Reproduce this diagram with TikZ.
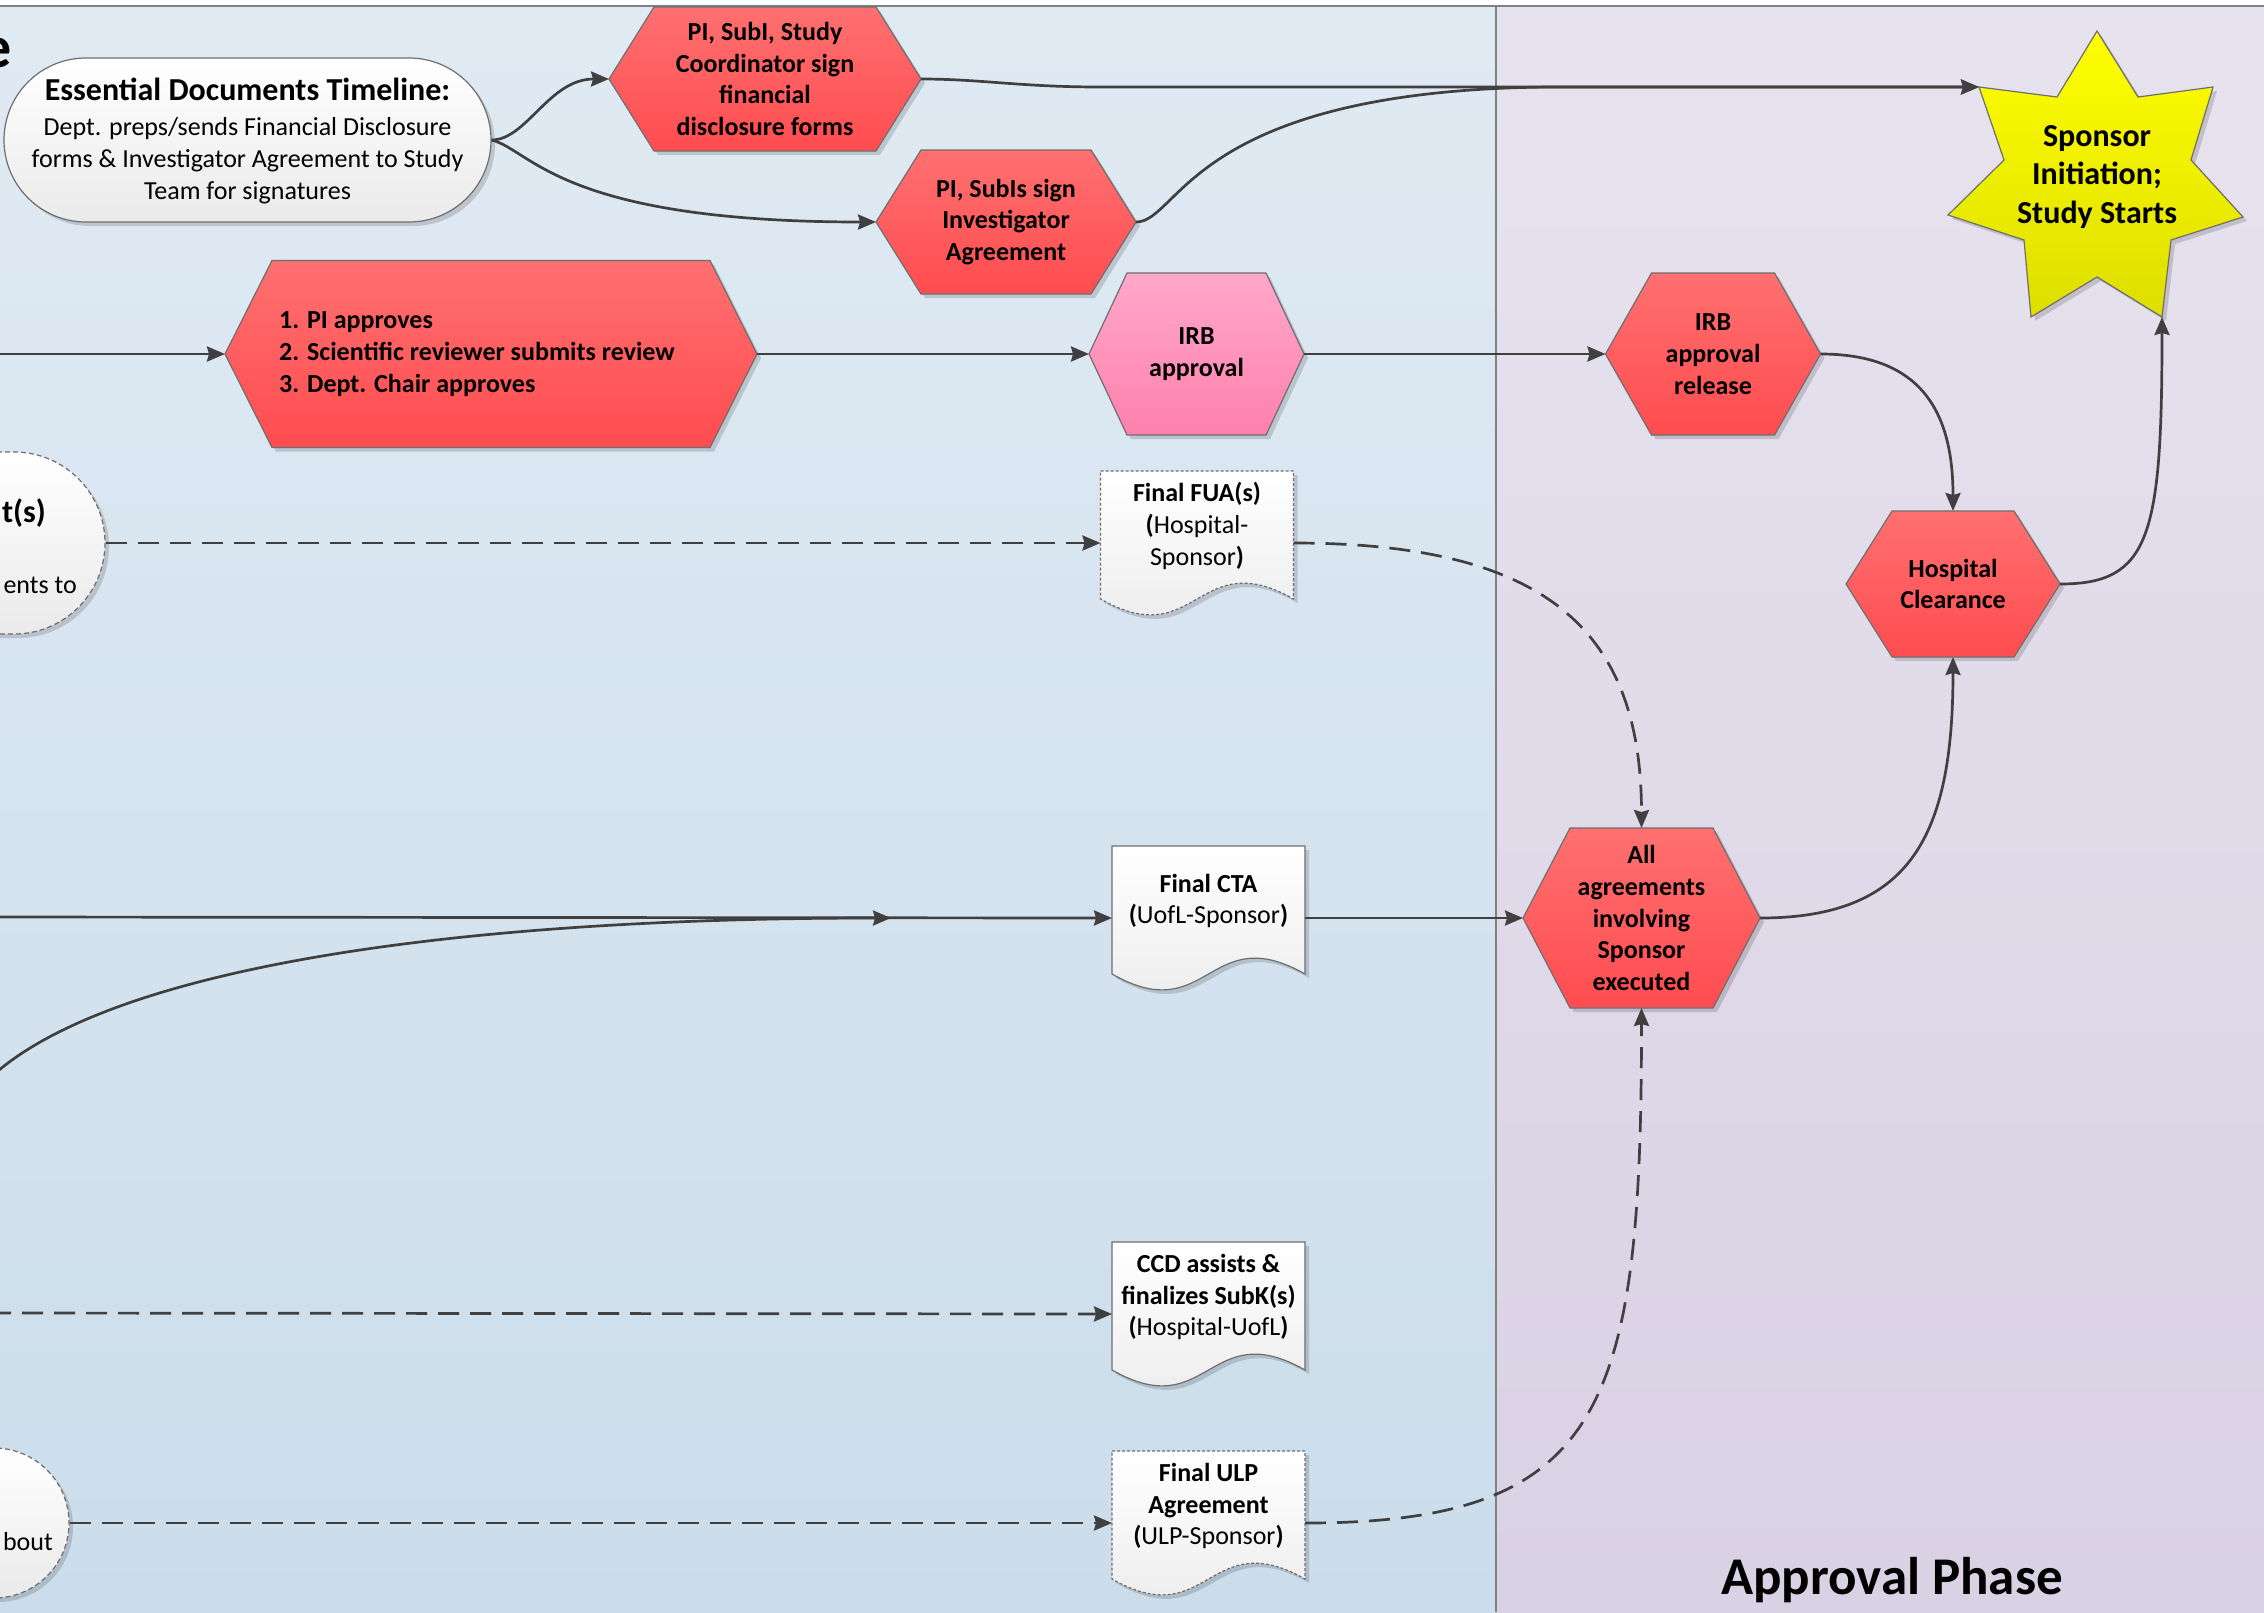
\documentclass[tikz,border=0pt]{standalone}
\usepackage{fontspec}
\setmainfont{Carlito}
\usetikzlibrary{arrows.meta,shapes.misc,shadows,calc}

\definecolor{bgLtop}{RGB}{224,234,243}
\definecolor{bgLbot}{RGB}{203,221,235}
\definecolor{bgRtop}{RGB}{231,227,238}
\definecolor{bgRbot}{RGB}{217,209,228}
\definecolor{redtop}{RGB}{255,112,112}
\definecolor{redbot}{RGB}{255,76,80}
\definecolor{pinktop}{RGB}{255,168,202}
\definecolor{pinkbot}{RGB}{255,128,172}
\definecolor{yeltop}{RGB}{255,255,0}
\definecolor{yelbot}{RGB}{222,222,0}
\definecolor{wtop}{RGB}{255,255,255}
\definecolor{wbot}{RGB}{234,234,234}
\definecolor{edge}{RGB}{110,110,110}
\definecolor{conn}{RGB}{64,64,64}
\definecolor{divline}{RGB}{128,128,128}

\tikzset{
  shapeshadow/.style={drop shadow={shadow xshift=4pt, shadow yshift=-4pt, opacity=0.15, fill=black}},
  redhex/.style={draw=edge, line width=1.2pt, top color=redtop, bottom color=redbot, shapeshadow},
  pinkhex/.style={draw=edge, line width=1.2pt, top color=pinktop, bottom color=pinkbot, shapeshadow},
  yelstar/.style={draw=edge, line width=1.2pt, top color=yeltop, bottom color=yelbot, shapeshadow},
  docfill/.style={draw=edge, line width=1.2pt, top color=wtop, bottom color=wbot, shapeshadow},
  docdash/.style={docfill, dash pattern=on 3pt off 2pt},
  stadium/.style={rounded rectangle, draw=edge, line width=1.2pt, top color=wtop, bottom color=wbot, shapeshadow, inner sep=0pt},
  leftstad/.style={stadium, dash pattern=on 5pt off 3pt},
  anchorbox/.style={rectangle, inner sep=0pt, outer sep=0pt, draw=none, fill=none},
  txt/.style={font=\fontsize{26}{31.7}\selectfont, align=center, inner sep=0pt, text=black},
  btxt/.style={txt, font=\fontsize{26}{31.7}\selectfont\bfseries},
  conline/.style={draw=conn, line width=2.7pt, -{Stealth[length=18pt,width=15pt,inset=2pt]}},
  condash/.style={conline, dash pattern=on 21pt off 11pt}
}

\newcommand{\hexshape}[9]{%
  \path[#7] ({#2-#4/2},{#3}) -- ({#2-#4/2+#6},{#3-#5/2}) -- ({#2+#4/2-#6},{#3-#5/2}) -- ({#2+#4/2},{#3}) -- ({#2+#4/2-#6},{#3+#5/2}) -- ({#2-#4/2+#6},{#3+#5/2}) -- cycle;
  \node[anchorbox, minimum width=#4pt, minimum height=#5pt] (#1) at (#2,#3) {};
  \node[btxt, #9] (#1t) at (#1) {#8};
}

\newcommand{\docshape}[5]{%
  \path[#4] ({#2-96.5},{#3-72}) -- ({#2+96.5},{#3-72}) -- ({#2+96.5},{#3+56}) .. controls ({#2},{#3+1}) and ({#2},{#3+111}) .. ({#2-96.5},{#3+56}) -- cycle;
  \node[anchorbox, minimum width=193pt, minimum height=144pt] (#1) at (#2,#3) {};
  \node[txt] (#1t) at (#2,{#3-17}) {#5};
}

\begin{document}
\begin{tikzpicture}[x=1pt, y=-1pt]
\useasboundingbox (0,0) rectangle (2264,1612);
\clip (0,0) rectangle (2264,1612);
\fill[white] (0,0) rectangle (2264,1612);
\shade[top color=bgLtop, bottom color=bgLbot] (0,6) rectangle (1496,1612);
\shade[top color=bgRtop, bottom color=bgRbot] (1496,6) rectangle (2264,1612);
\draw[divline, line width=1.5pt] (0,6) -- (2264,6);
\draw[divline, line width=1.5pt] (1496,6) -- (1496,1612);

% phase titles
\node[anchor=base east, inner sep=0pt, font=\fontsize{60}{70}\selectfont\bfseries] (ttl) at (12,67) {e};
\node[anchor=base, inner sep=0pt, font=\fontsize{53}{60}\selectfont\bfseries] (phase) at (1892,1594) {Approval Phase};

% left partial shapes
\node[leftstad, minimum width=600pt, minimum height=182pt] (lst) at (-195,543) {};
\node[anchor=east, inner sep=0pt, font=\fontsize{32}{36}\selectfont\bfseries] (ts) at (46,513) {t(s)};
\node[txt, anchor=east] (ento) at (77,585) {ents to};
\node[leftstad, minimum width=400pt, minimum height=150pt] (lcirc) at (-131,1523) {};
\node[txt, anchor=east] (bout) at (53,1542) {bout};

% essential documents
\node[stadium, minimum width=487pt, minimum height=164pt] (ess) at (247.5,140) {};
\node[txt] (esst) at (247.5,141) {{\fontsize{32}{36}\selectfont\bfseries Essential Documents Timeline:}\\[3pt]Dept. preps/sends Financial Disclosure\\forms \& Investigator Agreement to Study\\Team for signatures};

% hexagons
\hexshape{ph1}{765}{79}{312}{144}{45}{redhex}{PI, SubI, Study\\Coordinator sign\\financial\\disclosure forms}{}
\hexshape{ph2}{1006}{222}{260}{144}{45}{redhex}{PI, SubIs sign\\Investigator\\Agreement}{}
\hexshape{big}{491}{354}{532}{187}{47}{redhex}{1. PI approves\\2. Scientific reviewer submits review\\3. Dept. Chair approves}{align=left, xshift=-14pt}
\hexshape{irb}{1196.5}{354}{215}{162}{38}{pinkhex}{IRB\\approval}{}
\hexshape{irbr}{1713}{354}{215}{162}{46}{redhex}{IRB\\approval\\release}{}
\hexshape{hc}{1953}{584}{214}{146}{46}{redhex}{Hospital\\Clearance}{}
\hexshape{allag}{1641.5}{918}{237}{180}{47}{redhex}{All\\agreements\\involving\\Sponsor\\executed}{}

% star
\path[yelstar] (2097,31) -- (2138,97) -- (2213,87) -- (2191,160) -- (2243,217) -- (2171,240) -- (2162,317) -- (2097,277) -- (2031,317) -- (2024,240) -- (1948,215) -- (2004,160) -- (1979,87) -- (2057,97) -- cycle;
\node[btxt, font=\fontsize{32}{38.5}\selectfont\bfseries] (star) at (2097,177) {Sponsor\\Initiation;\\Study Starts};

% documents
\docshape{fua}{1197}{543}{docdash}{\textbf{Final FUA(s)}\\\textbf{(}Hospital-\\Sponsor\textbf{)}}
\docshape{cta}{1208.5}{918}{docfill}{\textbf{Final CTA}\\\textbf{(}UofL-Sponsor\textbf{)}}
\docshape{ccd}{1208.5}{1314}{docfill}{\textbf{CCD assists \&}\\\textbf{finalizes SubK(s)}\\\textbf{(}Hospital-UofL\textbf{)}}
\docshape{ulp}{1208.5}{1523}{docdash}{\textbf{Final ULP}\\\textbf{Agreement}\\\textbf{(}ULP-Sponsor\textbf{)}}

% coordinates
\coordinate (inPI) at (-10,354);
\coordinate (inCTA) at (-10,917);
\coordinate (inSub) at (-10,1313);
\coordinate (curveStart) at (-30,1100);
\coordinate (merge) at (891,918);
\coordinate (starUL) at (1979,87);
\coordinate (starBR) at (2162,317);
\coordinate (j0) at (1100,87);
\coordinate (j1) at (1550,87);

% connectors
\draw[conline] (ess.east) .. controls +(35,0) and +(-60,0) .. (ph1.west);
\draw[conline] (ess.east) .. controls +(40,10) and +(-316,0) .. (ph2.west);
\draw[conline] (ph1.east) .. controls +(60,0) and +(-80,0) .. (j0) -- (starUL);
\draw[conline] (ph2.east) .. controls +(44,0) and (1190,90) .. (j1) -- (starUL);
\draw[conline] (inPI) -- (big.west);
\draw[conline] (big.east) -- (irb.west);
\draw[conline] (irb.east) -- (irbr.west);
\draw[conline] (irbr.east) .. controls +(100,0) and +(0,-100) .. (hc.north);
\draw[conline] (hc.east) .. controls +(90,0) and +(0,220) .. (starBR);
\draw[condash] (lst.east) -- (fua.west);
\draw[condash] (fua.east) .. controls +(250,0) and +(0,-200) .. (allag.north);
\draw[conline] (inCTA) -- (cta.west);
\draw[conline] (curveStart) .. controls (60,980) and (400,918) .. (merge);
\draw[conline] (cta.east) -- (allag.west);
\draw[conline] (allag.east) .. controls +(150,0) and +(0,180) .. (hc.south);
\draw[condash] (inSub) -- (ccd.west);
\draw[condash] (lcirc.east) -- (ulp.west);
\draw[condash] (ulp.east) .. controls +(300,0) and +(0,400) .. (allag.south);
\end{tikzpicture}
\end{document}
